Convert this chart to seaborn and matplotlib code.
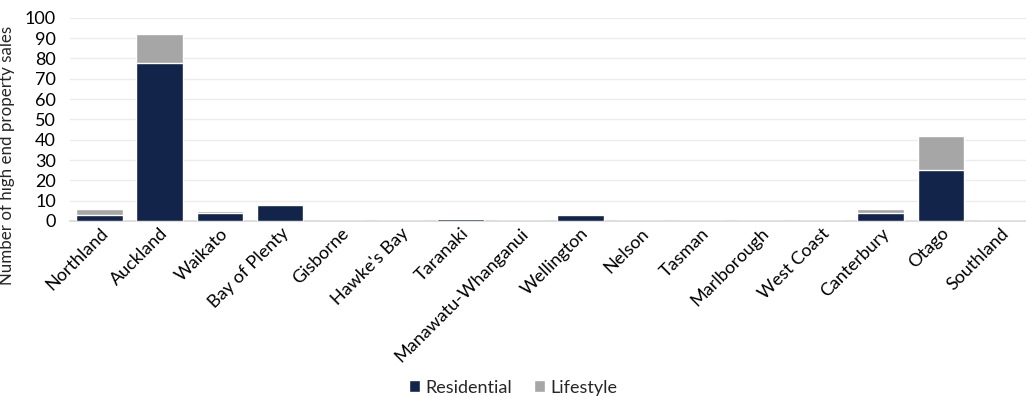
import matplotlib
matplotlib.use("Agg")
import matplotlib.pyplot as plt
import seaborn as sns
import pandas as pd
from matplotlib.patches import Patch

regions = ["Northland", "Auckland", "Waikato", "Bay of Plenty", "Gisborne", "Hawke's Bay",
           "Taranaki", "Manawatu-Whanganui", "Wellington", "Nelson", "Tasman", "Marlborough",
           "West Coast", "Canterbury", "Otago", "Southland"]
residential = [3, 78, 4, 8, 0, 0, 1, 0, 3, 0, 0, 0, 0, 4, 25, 0]
lifestyle = [3, 14, 1, 0, 0, 0, 0, 0, 0, 0, 0, 0, 0, 2, 17, 0]
y_ticks = list(range(0, 101, 10))

navy = "#12244a"
grey = "#a6a6a6"

df = pd.DataFrame({"region": regions, "residential": residential, "lifestyle": lifestyle})
df["total"] = df["residential"] + df["lifestyle"]

sns.set_theme(style="white")
plt.rcParams["font.family"] = ["Lato", "DejaVu Sans"]

fig = plt.figure(figsize=(10.26, 3.96), dpi=100)
ax = fig.add_axes([0.068, 0.442, 0.937, 0.513])

sns.barplot(data=df, x="region", y="total", color=grey, width=0.78, saturation=1,
            ax=ax, zorder=2)
sns.barplot(data=df, x="region", y="residential", color=navy, width=0.78, saturation=1,
            ax=ax, zorder=3)

ax.set_ylim(0, 100)
ax.set_yticks(y_ticks)
ax.set_xlim(-0.5, len(regions) - 0.5)
ax.yaxis.grid(True, color="#ececec", linewidth=1, zorder=0)
ax.set_axisbelow(True)
for side in ["top", "right", "left"]:
    ax.spines[side].set_visible(False)
ax.spines["bottom"].set_color("#d9d9d9")
ax.tick_params(axis="y", labelsize=13, length=0, pad=10, colors="#000000")
ax.tick_params(axis="x", labelsize=13, length=0, pad=3, colors="#000000")
ax.set_xticks(range(len(regions)))
ax.set_xticklabels(regions, rotation=45, ha="right", rotation_mode="anchor")
ax.set_xlabel("")
ax.set_ylabel("Number of high end property sales", fontsize=12.2)
ax.yaxis.set_label_coords(-0.057, 0.325)

handles = [Patch(facecolor=navy, label="Residential"), Patch(facecolor=grey, label="Lifestyle")]
fig.legend(handles=handles, loc="lower center", bbox_to_anchor=(0.5, -0.04), ncol=2,
           frameon=False, fontsize=13, handlelength=0.6, handleheight=0.6,
           handletextpad=0.3, columnspacing=1.2)

fig.savefig("out.png", dpi=100)
